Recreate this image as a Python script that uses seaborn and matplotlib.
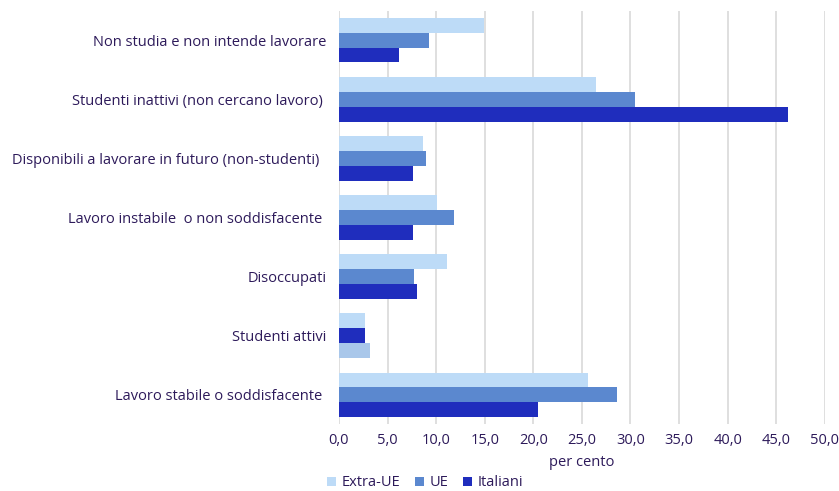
import numpy as np
import matplotlib
matplotlib.use("Agg")
import matplotlib.pyplot as plt
import seaborn as sns
import pandas as pd

# categories (top to bottom)
categorie = ["Non studia e non intende lavorare",
             "Studenti inattivi (non cercano lavoro) ",
             "Disponibili a lavorare in futuro (non-studenti)  ",
             "Lavoro instabile  o non soddisfacente ",
             "Disoccupati",
             "Studenti attivi",
             "Lavoro stabile o soddisfacente "]
gruppi = ["Extra-UE", "UE", "Italiani"]

extra_ue = [14.9, 26.5, 8.7, 10.1, 11.1, 2.7, 25.6]
ue       = [9.3, 30.5, 9.0, 11.8, 7.7, 2.7, 28.6]
italiani = [6.2, 46.2, 7.6, 7.6, 8.0, 3.2, 20.5]

colori = ["#bddbf7", "#5b88cf", "#1f2dbd"]
testo = "#2d1a5a"
fs = 10.5

df = pd.DataFrame({
    "categoria": categorie * 3,
    "gruppo": [g for g in gruppi for _ in categorie],
    "valore": extra_ue + ue + italiani,
})

sns.set_style("white")
plt.rcParams['font.family'] = ['Open Sans', 'DejaVu Sans']

fig = plt.figure(figsize=(8.39, 4.91), dpi=100)
ax = fig.add_axes([0.404, 0.136, 0.579, 0.842])

sns.barplot(data=df, y="categoria", x="valore", hue="gruppo", hue_order=gruppi,
            order=categorie, palette=colori, orient="h", width=0.75,
            saturation=1, linewidth=0, ax=ax, zorder=3)

# the "Studenti attivi" group is drawn with odd colours in the original
idx = categorie.index("Studenti attivi")
n = len(categorie)
ax.patches[n + idx].set_facecolor(colori[2])
ax.patches[2 * n + idx].set_facecolor("#a9c7ea")

ax.set_xlim(0, 50)
ax.set_xticks(np.arange(0, 50.1, 5))
ax.set_xticklabels([f"{v:.1f}".replace(".", ",") for v in np.arange(0, 50.1, 5)])
ax.grid(axis="x", color="#d9d9d9", linewidth=1.2, zorder=0)
ax.set_axisbelow(True)
for s in ax.spines.values():
    s.set_visible(False)
ax.tick_params(axis="both", length=0, colors=testo, labelsize=fs)
ax.tick_params(axis="y", pad=9)
ax.tick_params(axis="x", pad=6)
ax.set_ylabel("")
ax.set_xlabel("per cento", color=testo, fontsize=fs, labelpad=5)
ax.set_ylim(n - 0.5, -0.5)

ax.legend(loc="center left", bbox_to_anchor=(-0.024, -0.142), ncol=3, frameon=False,
          fontsize=fs, labelcolor=testo, handlelength=0.6, handleheight=0.6,
          handletextpad=0.4, columnspacing=1.0, borderaxespad=0, borderpad=0)

fig.savefig("out.png", dpi=100)
